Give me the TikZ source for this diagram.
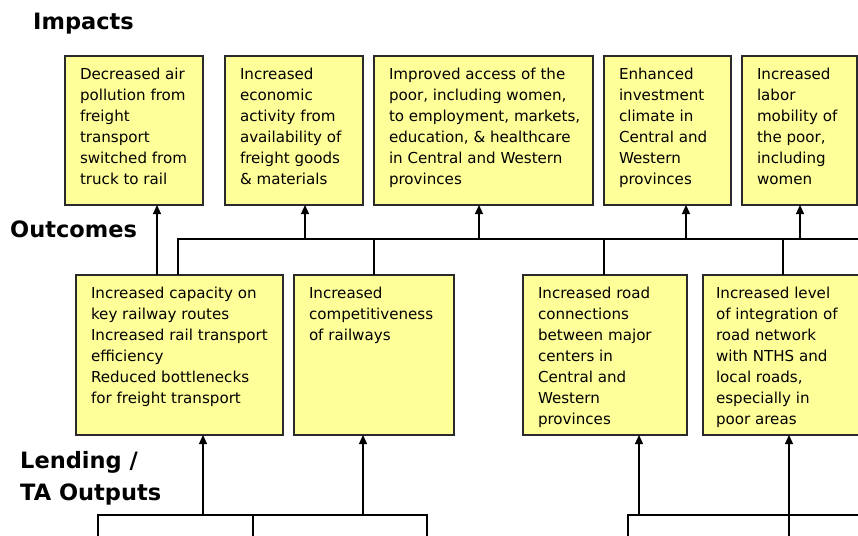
\documentclass[tikz,border=0pt]{standalone}
\usepackage{fontspec}
\setmainfont{DejaVu Sans}
\usetikzlibrary{arrows.meta}
\definecolor{boxyellow}{HTML}{FFFF99}
\definecolor{boxline}{HTML}{2A2A2A}
\newcommand{\bxcontent}[3]{\parbox[c][#2][t]{#1}{\begin{tabular}[t]{@{\hspace{15pt}}l@{}}\rule{0pt}{23pt}#3\end{tabular}}}
\begin{document}
\begin{tikzpicture}[x=1pt,y=-1pt,
  box/.style={draw=boxline, line width=1.3pt, fill=boxyellow, inner sep=0pt, outer sep=0pt, anchor=north west,
    font=\fontsize{15.1}{21}\selectfont},
  heading/.style={anchor=base west, inner sep=0pt, font=\fontsize{22.5}{32}\selectfont\bfseries},
  conn/.style={line width=1.3pt, draw=black},
  arr/.style={conn, -{Triangle[length=9pt,width=8pt]}}]
\useasboundingbox (0,0) rectangle (858,535);

% headings
\node[heading] (hImp) at (33,30) {Impacts};
\node[heading] (hOut) at (10,237) {Outcomes};
\node[heading] (hLen) at (20,468) {\begin{tabular}[t]{@{}l@{}}Lending /\\TA Outputs\end{tabular}};

% impacts
\node[box] (I1) at (65,56) {\bxcontent{138pt}{149pt}{Decreased air\\pollution from\\freight\\transport\\switched from\\truck to rail}};
\node[box] (I2) at (225,56) {\bxcontent{138pt}{149pt}{Increased\\economic\\activity from\\availability of\\freight goods\\\& materials}};
\node[box] (I3) at (374,56) {\bxcontent{219pt}{149pt}{Improved access of the\\poor, including women,\\to employment, markets,\\education, \& healthcare\\in Central and Western\\provinces}};
\node[box] (I4) at (604,56) {\bxcontent{127pt}{149pt}{Enhanced\\investment\\climate in\\Central and\\Western\\provinces}};
\node[box] (I5) at (742,56) {\bxcontent{115pt}{149pt}{Increased\\labor\\mobility of\\the poor,\\including\\women}};

% outcomes
\node[box] (O1) at (76,275) {\bxcontent{207pt}{160pt}{Increased capacity on\\key railway routes\\Increased rail transport\\efficiency\\Reduced bottlenecks\\for freight transport}};
\node[box] (O2) at (294,275) {\bxcontent{160pt}{160pt}{Increased\\competitiveness\\of railways}};
\node[box] (O3) at (523,275) {\bxcontent{164pt}{160pt}{Increased road\\connections\\between major\\centers in\\Central and\\Western\\provinces}};
\node[box] (O4) at (703,275) {\parbox[c][160pt][t]{165pt}{\begin{tabular}[t]{@{\hspace{13pt}}l@{}}\rule{0pt}{23pt}Increased level\\of integration of\\road network\\with NTHS and\\local roads,\\especially in\\poor areas\end{tabular}}};

% coordinates of the connector lines
\coordinate (a1) at (157,239);
\coordinate (busL) at (178,239);
\coordinate (busR) at (862,239);
\coordinate (b2) at (305,239);
\coordinate (b3) at (479,239);
\coordinate (b4) at (686,239);
\coordinate (b5) at (800,239);
\coordinate (d2) at (374,239);
\coordinate (d3) at (604,239);
\coordinate (d4) at (783,239);
\coordinate (bot) at (0,540);
\coordinate (L1) at (98,515);
\coordinate (L2) at (253,515);
\coordinate (L3) at (427,515);
\coordinate (u1) at (203,515);
\coordinate (u2) at (363,515);
\coordinate (R1) at (628,515);
\coordinate (R2) at (862,515);
\coordinate (u3) at (639,515);
\coordinate (u4) at (789,515);

% outcomes -> impacts
\draw[arr] (O1.north -| a1) -- (I1.south -| a1);
\draw[conn] (O1.north -| busL) -- (busL) -- (busR);
\draw[arr] (b2) -- (I2.south -| b2);
\draw[arr] (b3) -- (I3.south -| b3);
\draw[arr] (b4) -- (I4.south -| b4);
\draw[arr] (b5) -- (I5.south -| b5);
\draw[conn] (d2) -- (O2.north -| d2);
\draw[conn] (d3) -- (O3.north -| d3);
\draw[conn] (d4) -- (O4.north -| d4);

% outputs -> outcomes
\draw[conn] (L1 |- bot) -- (L1) -- (L3) -- (L3 |- bot);
\draw[conn] (L2) -- (L2 |- bot);
\draw[arr] (u1) -- (O1.south -| u1);
\draw[arr] (u2) -- (O2.south -| u2);
\draw[conn] (R1 |- bot) -- (R1) -- (R2);
\draw[conn] (u4 |- bot) -- (u4);
\draw[arr] (u3) -- (O3.south -| u3);
\draw[arr] (u4) -- (O4.south -| u4);
\end{tikzpicture}
\end{document}
